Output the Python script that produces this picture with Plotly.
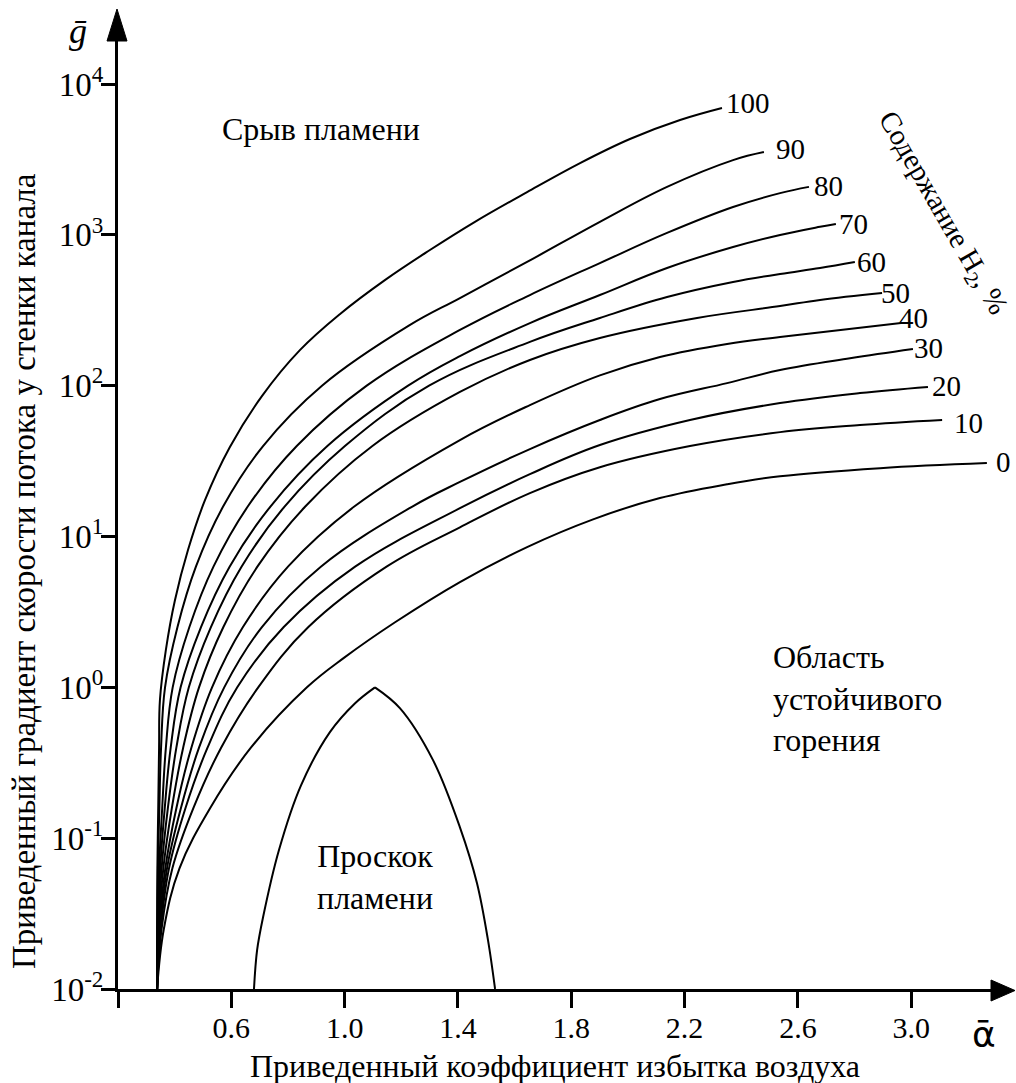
import math
import plotly.graph_objects as go

# ---------------- data ----------------
h2_content = [100, 90, 80, 70, 60, 50, 40, 30, 20, 10, 0]

alpha_100 = [0.338, 0.338, 0.339, 0.342, 0.345, 0.348, 0.369, 0.401, 0.447, 0.507, 0.595, 0.708, 0.842, 0.984, 1.142, 1.301, 1.460, 1.644, 1.831, 2.007, 2.184, 2.332]
g_100 = [0.01, 0.0251, 0.0631, 0.158, 0.398, 0.822, 1.77, 3.78, 8.13, 17.4, 39.2, 85.3, 172, 299, 501, 793, 1220, 1920, 2990, 4320, 5770, 6930]

alpha_90 = [0.338, 0.339, 0.341, 0.346, 0.352, 0.366, 0.410, 0.475, 0.571, 0.712, 0.920, 1.228, 1.407, 1.644, 1.901, 2.138, 2.371, 2.480]
g_90 = [0.01, 0.0251, 0.0631, 0.158, 0.398, 1.0, 2.51, 6.31, 15.8, 39.8, 100, 251, 381, 661, 1220, 2080, 3130, 3540]

alpha_80 = [0.338, 0.340, 0.345, 0.356, 0.369, 0.393, 0.452, 0.537, 0.658, 0.831, 1.078, 1.407, 1.654, 1.901, 2.138, 2.371, 2.537, 2.639]
g_80 = [0.01, 0.0251, 0.0631, 0.158, 0.398, 1.0, 2.51, 6.31, 15.8, 39.8, 100, 234, 399, 650, 1030, 1530, 1890, 2080]

alpha_70 = [0.338, 0.341, 0.349, 0.365, 0.386, 0.421, 0.493, 0.594, 0.738, 0.939, 1.224, 1.407, 1.654, 1.901, 2.138, 2.371, 2.537, 2.678, 2.734]
g_70 = [0.01, 0.0251, 0.0631, 0.158, 0.398, 1.0, 2.51, 6.31, 15.8, 39.8, 100, 157, 260, 399, 603, 830, 998, 1130, 1180]

alpha_60 = [0.338, 0.343, 0.354, 0.376, 0.406, 0.450, 0.528, 0.636, 0.788, 1.001, 1.298, 1.654, 1.901, 2.138, 2.371, 2.537, 2.678, 2.801]
g_60 = [0.01, 0.0251, 0.0631, 0.158, 0.398, 1.0, 2.51, 6.31, 15.8, 39.8, 100, 195, 281, 387, 487, 550, 603, 661]

alpha_50 = [0.338, 0.344, 0.360, 0.390, 0.430, 0.486, 0.572, 0.692, 0.861, 1.098, 1.407, 1.654, 1.901, 2.244, 2.537, 2.678, 2.897]
g_50 = [0.01, 0.0251, 0.0631, 0.158, 0.398, 1.0, 2.51, 6.31, 15.8, 39.8, 90.8, 148, 207, 281, 337, 370, 411]

alpha_40 = [0.338, 0.346, 0.367, 0.406, 0.459, 0.532, 0.641, 0.800, 1.034, 1.407, 1.654, 1.901, 2.113, 2.350, 2.537, 2.964]
g_40 = [0.01, 0.0251, 0.0631, 0.158, 0.398, 1.0, 2.51, 6.31, 15.8, 43.6, 74.3, 117, 155, 189, 210, 260]

alpha_30 = [0.338, 0.349, 0.373, 0.422, 0.486, 0.575, 0.708, 0.916, 1.239, 1.407, 1.654, 1.901, 2.113, 2.350, 2.537, 2.784, 3.006]
g_30 = [0.01, 0.0251, 0.0631, 0.158, 0.398, 1.0, 2.51, 6.31, 15.8, 23.0, 38.0, 59.2, 81.5, 104, 127, 152, 175]

alpha_20 = [0.338, 0.351, 0.380, 0.438, 0.516, 0.621, 0.785, 1.037, 1.407, 1.654, 1.901, 2.219, 2.537, 2.819, 3.059]
g_20 = [0.01, 0.0251, 0.0631, 0.158, 0.398, 1.0, 2.51, 6.31, 15.4, 25.9, 40.4, 59.2, 76.7, 89.3, 98.0]

alpha_10 = [0.338, 0.354, 0.392, 0.466, 0.564, 0.695, 0.872, 1.148, 1.407, 1.654, 1.901, 2.219, 2.537, 2.819, 3.109]
g_10 = [0.01, 0.0251, 0.0631, 0.158, 0.398, 1.0, 2.51, 6.31, 11.5, 19.4, 28.8, 39.8, 49.2, 54.8, 59.2]

alpha_0 = [0.338, 0.362, 0.417, 0.525, 0.669, 0.867, 1.001, 1.178, 1.407, 1.644, 1.877, 2.113, 2.350, 2.537, 2.890, 3.267]
g_0 = [0.01, 0.0251, 0.0631, 0.158, 0.398, 1.0, 1.585, 2.70, 4.99, 8.51, 13.0, 18.0, 22.2, 25.1, 28.4, 30.7]

# flashback (проскок) boundary, apex at index 7
alpha_flashback = [0.680, 0.691, 0.712, 0.768, 0.846, 0.948, 1.037, 1.107, 1.195, 1.312, 1.407, 1.467, 1.506, 1.531]
g_flashback = [0.01, 0.0181, 0.0299, 0.0832, 0.224, 0.505, 0.785, 1.0, 0.728, 0.329, 0.118, 0.0504, 0.0211, 0.01]

x_tick_vals = [0.2, 0.6, 1.0, 1.4, 1.8, 2.2, 2.6, 3.0]
x_tick_text = ["", "0.6", "1.0", "1.4", "1.8", "2.2", "2.6", "3.0"]
y_tick_vals = [1e-2, 1e-1, 1e0, 1e1, 1e2, 1e3, 1e4]
y_tick_text = ["10<sup>-2</sup>", "10<sup>-1</sup>", "10<sup>0</sup>", "10<sup>1</sup>",
               "10<sup>2</sup>", "10<sup>3</sup>", "10<sup>4</sup>"]

curves = [
    (alpha_100, g_100), (alpha_90, g_90), (alpha_80, g_80), (alpha_70, g_70),
    (alpha_60, g_60), (alpha_50, g_50), (alpha_40, g_40), (alpha_30, g_30),
    (alpha_20, g_20), (alpha_10, g_10), (alpha_0, g_0),
]

# ---------------- layout geometry (pixels) ----------------
W, H = 1016, 1083
L, R, T, B = 118, 24, 40, 94
PW, PH = W - L - R, H - T - B
FONT = "Liberation Serif"


def P(px, py):
    """pixel -> paper coordinates"""
    return (px - L) / PW, (H - B - py) / PH


fig = go.Figure()
line_style = dict(color="black", width=2, shape="spline", smoothing=1.1)
for (a, g), lvl in zip(curves, h2_content):
    fig.add_trace(go.Scatter(x=a, y=g, mode="lines", name=str(lvl), line=line_style,
                             cliponaxis=False, hoverinfo="skip"))
apex = g_flashback.index(max(g_flashback))
dome_style = dict(color="black", width=2, shape="spline", smoothing=1.0)
fig.add_trace(go.Scatter(x=alpha_flashback[:apex + 1], y=g_flashback[:apex + 1], mode="lines",
                         line=dome_style, cliponaxis=False, hoverinfo="skip"))
fig.add_trace(go.Scatter(x=alpha_flashback[apex:], y=g_flashback[apex:], mode="lines",
                         line=dome_style, cliponaxis=False, hoverinfo="skip"))

annotations = []
# curve labels at curve ends
label_dx = [2, 10, 3, 1, 0, -3, -4, -1, 2, 10, 7]
label_dy = [5, 3, 1, 0, 0, 0, 5, 1, 1, -3, 1]
for (a, g), lvl, dx, dy in zip(curves, h2_content, label_dx, label_dy):
    annotations.append(dict(x=a[-1], y=math.log10(g[-1]), xref="x", yref="y",
                            text=str(lvl), showarrow=False, xanchor="left", yanchor="middle",
                            xshift=dx, yshift=dy, font=dict(size=29, family=FONT, color="black")))


def txt(text, px, py, size=29, xanchor="center", angle=0, align="center", family=FONT):
    x, y = P(px, py)
    annotations.append(dict(x=x, y=y, xref="paper", yref="paper", text=text, showarrow=False,
                            xanchor=xanchor, yanchor="middle", textangle=angle, align=align,
                            font=dict(size=size, family=family, color="black")))


txt("Срыв пламени", 321, 129, size=32)
txt("Проскок<br>пламени", 375, 877, size=32)
txt("Область<br>устойчивого<br>горения", 771, 698, size=32, xanchor="left", align="left")
txt("Содержание H<sub>2</sub>, %", 942, 213, size=29, angle=60)
txt("Приведенный коэффициент избытка воздуха", 555, 1066, size=32)
txt("Приведенный градиент скорости потока у стенки канала", 24, 571, size=33, angle=-90)
txt("<i>ḡ</i>", 78, 31, size=36)
txt("ᾱ", 984, 1034, size=36, family="DejaVu Sans")

# axis arrowheads
ax0, ay0 = P(117, 9)
ax1, ay1 = P(107, 41)
ax2, ay2 = P(127, 41)
bx0, by0 = P(1015, 990.5)
bx1, by1 = P(991, 980)
bx2, by2 = P(991, 1001)
shapes = [
    dict(type="path", xref="paper", yref="paper",
         path=f"M {ax0},{ay0} L {ax1},{ay1} L {ax2},{ay2} Z",
         fillcolor="black", line=dict(color="black", width=1)),
    dict(type="path", xref="paper", yref="paper",
         path=f"M {bx0},{by0} L {bx1},{by1} L {bx2},{by2} Z",
         fillcolor="black", line=dict(color="black", width=1)),
]

x_max = 0.2 + PW / 283.3
y_top = 4 + (84 - T) / 150.8

fig.update_layout(
    width=W, height=H, margin=dict(l=L, r=R, t=T, b=B),
    plot_bgcolor="white", paper_bgcolor="white", showlegend=False,
    font=dict(family=FONT, color="black"),
    annotations=annotations, shapes=shapes,
    xaxis=dict(range=[0.2, x_max], tickvals=x_tick_vals, ticktext=x_tick_text,
               ticks="outside", ticklen=16, tickwidth=3, tickcolor="black",
               ticklabelstandoff=-6,
               showline=True, linewidth=3, linecolor="black", showgrid=False, zeroline=False,
               tickfont=dict(size=30, family=FONT, color="black")),
    yaxis=dict(type="log", range=[-2, y_top], tickvals=y_tick_vals, ticktext=y_tick_text,
               ticks="outside", ticklen=14, tickwidth=3, tickcolor="black",
               ticklabelstandoff=-9,
               showline=True, linewidth=3, linecolor="black", showgrid=False, zeroline=False,
               tickfont=dict(size=33, family=FONT, color="black")),
)

fig.write_html("out.html", config={"displayModeBar": False},
               post_script="document.body.style.margin='0';document.body.style.overflow='hidden';")
